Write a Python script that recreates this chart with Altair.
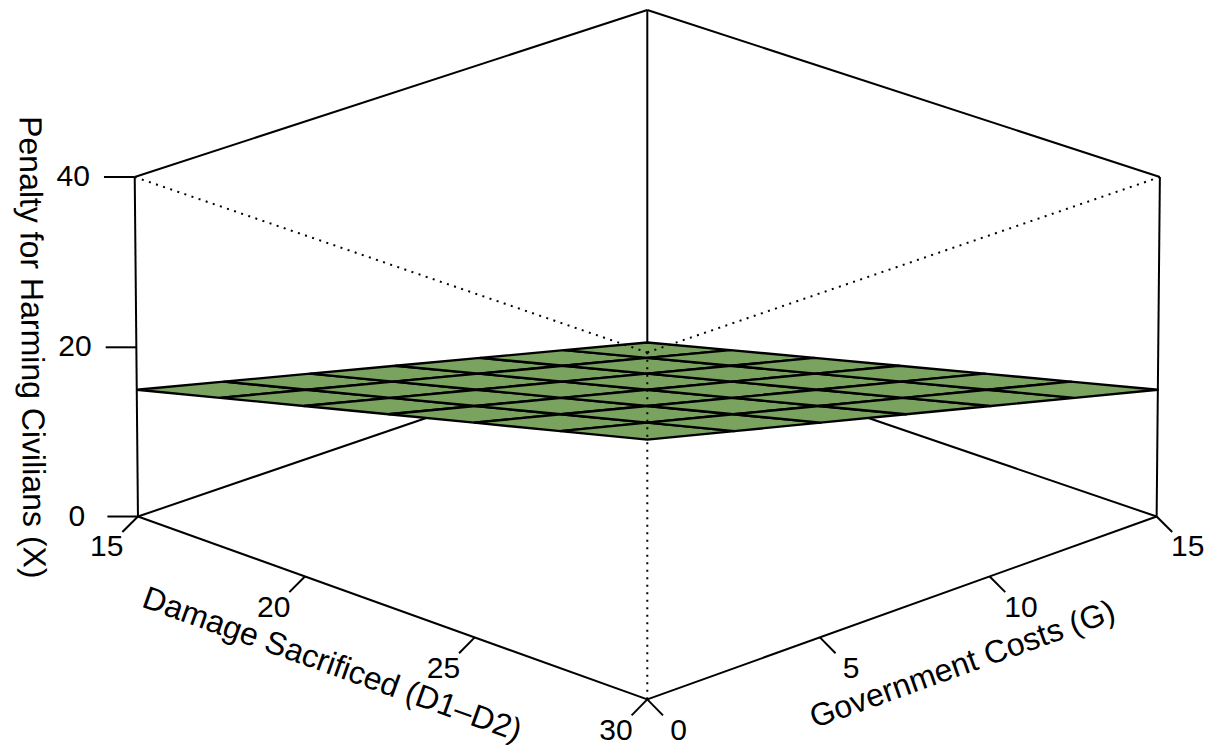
import math
import altair as alt
import pandas as pd

# ---------------- data ----------------
D_LIM = [15, 30]          # Damage Sacrificed (D1-D2)
G_LIM = [0, 15]           # Government Costs (G)
X_LIM = [0, 40]           # Penalty for Harming Civilians (X)
D_TICKS = [15, 20, 25, 30]
G_TICKS = [0, 5, 10, 15]
X_TICKS = [0, 20, 40]
D_GRID = [15, 17.5, 20, 22.5, 25, 27.5, 30]
G_GRID = [0, 2.5, 5, 7.5, 10, 12.5, 15]
# surface heights, rows follow D_GRID, columns follow G_GRID
X_SURFACE = [
    [15.0, 12.5, 10.0, 7.5, 5.0, 2.5, 0.0],
    [17.5, 15.0, 12.5, 10.0, 7.5, 5.0, 2.5],
    [20.0, 17.5, 15.0, 12.5, 10.0, 7.5, 5.0],
    [22.5, 20.0, 17.5, 15.0, 12.5, 10.0, 7.5],
    [25.0, 22.5, 20.0, 17.5, 15.0, 12.5, 10.0],
    [27.5, 25.0, 22.5, 20.0, 17.5, 15.0, 12.5],
    [30.0, 27.5, 25.0, 22.5, 20.0, 17.5, 15.0],
]
X_TITLE = "Penalty for Harming Civilians (X)"
D_TITLE = "Damage Sacrificed (D1\u2013D2)"
G_TITLE = "Government Costs (G)"

# ---------------- view / style ----------------
PHI_DEG = 20.0
EXPAND = 0.5
DIST = 54.0
SCALE_PX = 361.3
CENTER_X = 647.3
CENTER_Y = 347.3
W, H = 1203, 737
PAGE_MARGIN = 8
TICK_LEN = 0.06
LABEL_OFF = 0.12
TITLE_OFF = 0.22
X_TITLE_OFF = 0.205
GREEN = "#7aa360"
FONT = "Liberation Sans"
TICK_FONT = 30
TITLE_FONT = 32
LW = 2
SURF_LW = 2.4

CPHI = math.cos(math.radians(PHI_DEG))
SPHI = math.sin(math.radians(PHI_DEG))
R2 = math.sqrt(2.0)


def nrm(val, lim):
    return 2.0 * (val - lim[0]) / (lim[1] - lim[0]) - 1.0


def project(u, v, w):
    s = (u + v) / R2
    t = (u - v) / R2
    wz = EXPAND * w
    q = wz * CPHI - t * SPHI
    e = t * CPHI + wz * SPHI
    f = DIST / (DIST - e)
    return s * f, q * f


def pt(d, g, x):
    return project(nrm(d, D_LIM), nrm(g, G_LIM), nrm(x, X_LIM))


def seg(p, q):
    return {"x": p[0], "y": p[1], "x2": q[0], "y2": q[1]}


A, B, C, Dk = project(-1, -1, -1), project(1, -1, -1), project(1, 1, -1), project(-1, 1, -1)
At, Bt, Ct, Dt = project(-1, -1, 1), project(1, -1, 1), project(1, 1, 1), project(-1, 1, 1)

solid = [seg(A, B), seg(B, C), seg(C, Dk), seg(Dk, A),
         seg(A, At), seg(C, Ct), seg(Dk, Dt),
         seg(At, Dt), seg(Dt, Ct)]
dotted = [seg(B, Bt), seg(At, Bt), seg(Bt, Ct)]

tick_segs = []
tick_labels = []
T = TICK_LEN
L = LABEL_OFF
for d in D_TICKS:
    u = nrm(d, D_LIM)
    tick_segs.append(seg(project(u, -1, -1), project(u, -1 - T, -1 - T)))
    p = project(u, -1 - L, -1 - L)
    tick_labels.append({"x": p[0], "y": p[1], "label": str(d)})
for g in G_TICKS:
    v = nrm(g, G_LIM)
    tick_segs.append(seg(project(1, v, -1), project(1 + T, v, -1 - T)))
    p = project(1 + L, v, -1 - L)
    tick_labels.append({"x": p[0], "y": p[1], "label": str(g)})
for xv in X_TICKS:
    w = nrm(xv, X_LIM)
    tick_segs.append(seg(project(-1, -1, w), project(-1 - T, -1 - T, w)))
    p = project(-1 - L, -1 - L, w)
    tick_labels.append({"x": p[0], "y": p[1], "label": str(xv)})


def screen_angle(p0, p1):
    return math.degrees(math.atan2(-(p1[1] - p0[1]), p1[0] - p0[0])) % 360


TT = TITLE_OFF
XT = X_TITLE_OFF
titles = [
    (D_TITLE, project(0, -1 - TT, -1 - TT), screen_angle(A, B)),
    (G_TITLE, project(1 + TT, 0, -1 - TT), screen_angle(B, C)),
    (X_TITLE, project(-1 - XT, -1 - XT, 0), screen_angle(At, A)),
]

# surface facets
cells = []
cid = 0
for i in range(len(D_GRID) - 1):
    for j in range(len(G_GRID) - 1):
        idx = [(i, j), (i + 1, j), (i + 1, j + 1), (i, j + 1), (i, j)]
        for k, (a, b) in enumerate(idx):
            p = pt(D_GRID[a], G_GRID[b], X_SURFACE[a][b])
            cells.append({"cell": cid, "k": k, "x": p[0], "y": p[1]})
        cid += 1

# ---------------- chart ----------------
xs = alt.Scale(domain=[(PAGE_MARGIN - CENTER_X) / SCALE_PX,
                       (PAGE_MARGIN + W - CENTER_X) / SCALE_PX], nice=False, zero=False)
ys = alt.Scale(domain=[(CENTER_Y - PAGE_MARGIN - H) / SCALE_PX,
                       (CENTER_Y - PAGE_MARGIN) / SCALE_PX], nice=False, zero=False)
X = alt.X("x:Q", scale=xs, axis=None)
Y = alt.Y("y:Q", scale=ys, axis=None)

back = alt.Chart(pd.DataFrame(solid + tick_segs)).mark_rule(
    color="black", strokeWidth=LW).encode(x=X, y=Y, x2="x2:Q", y2="y2:Q")

front = alt.Chart(pd.DataFrame(dotted)).mark_rule(
    color="black", strokeWidth=LW, strokeDash=[2, 5.5]).encode(x=X, y=Y, x2="x2:Q", y2="y2:Q")

labels = alt.Chart(pd.DataFrame(tick_labels)).mark_text(
    font=FONT, fontSize=TICK_FONT, align="center", baseline="middle", color="black"
).encode(x=X, y=Y, text="label:N")

title_layers = []
for text, p, ang in titles:
    title_layers.append(
        alt.Chart(pd.DataFrame([{"x": p[0], "y": p[1], "label": text}])).mark_text(
            font=FONT, fontSize=TITLE_FONT, align="center", baseline="middle",
            color="black", angle=ang
        ).encode(x=X, y=Y, text="label:N")
    )

surface = alt.Chart(pd.DataFrame(cells)).mark_line(
    fill=GREEN, stroke="black", strokeWidth=SURF_LW, strokeJoin="round"
).encode(x=X, y=Y, detail="cell:N", order="k:Q")

chart = alt.layer(back, labels, *title_layers, surface, front).properties(
    width=W, height=H, autosize=alt.AutoSizeParams(type="none"), padding=0
).configure_view(stroke=None)

chart.save("out.html", embed_options={"renderer": "svg", "actions": False})
